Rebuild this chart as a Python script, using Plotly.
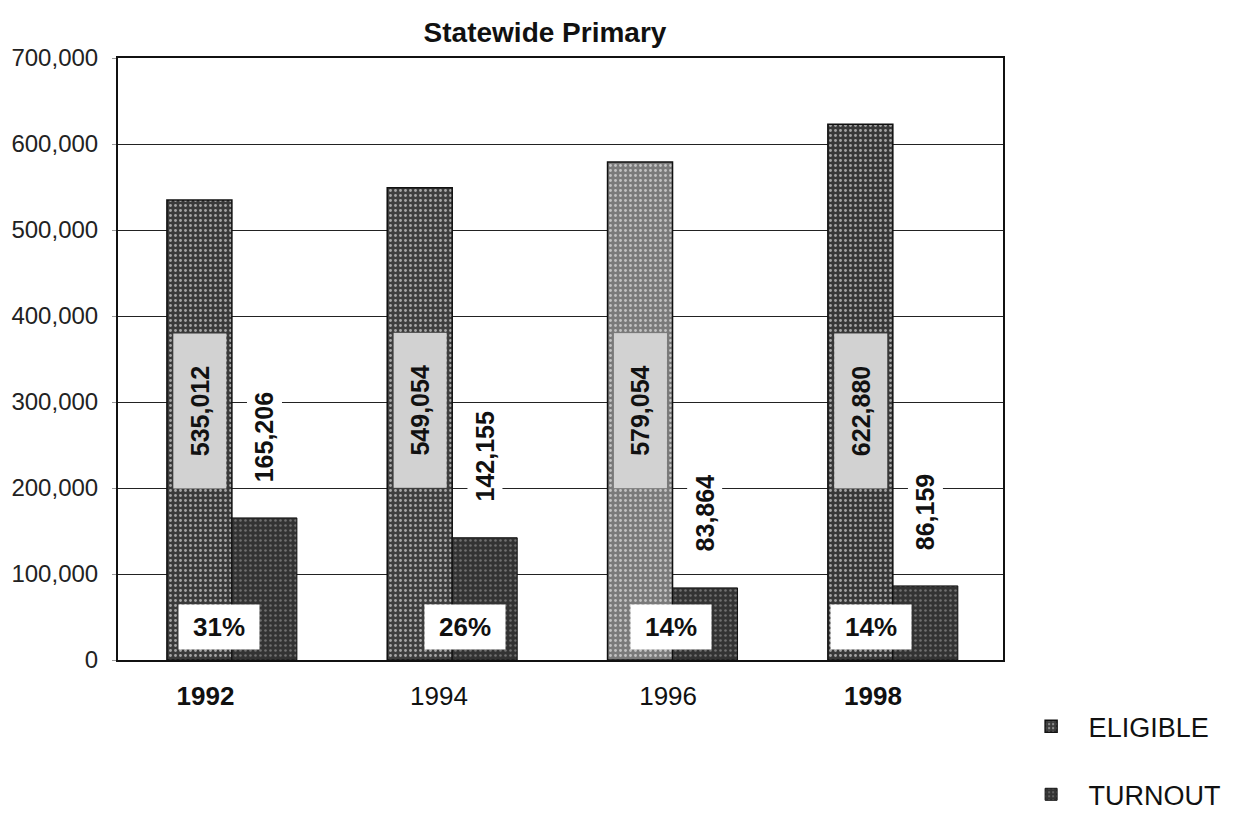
import plotly.graph_objects as go

# ---- data ----
YEARS = ["1992", "1994", "1996", "1998"]
ELIGIBLE = [535012, 549054, 579054, 622880]
TURNOUT = [165206, 142155, 83864, 86159]
Y_TICKS = [0, 100000, 200000, 300000, 400000, 500000, 600000, 700000]

# ---- styles ----
ELIGIBLE_COLORS = ["#3a3a3a", "#3e3e3e", "#7a7a7a", "#383838"]
TURNOUT_COLOR = "#333333"
FONT = "Liberation Sans, Arial, sans-serif"
BAR_W = 0.295
BOLD_YEAR = [True, False, False, True]
YEAR_LABEL_SHIFT = [-0.12, -0.06, -0.02, -0.09]   # category units
PCT_BOX_XSHIFT = [-13, 13, -2, -22]                # pixels

xs = list(range(len(YEARS)))
pct = [round(100 * t / e) for t, e in zip(TURNOUT, ELIGIBLE)]

fig = go.Figure()
fig.add_trace(go.Bar(
    name="ELIGIBLE", x=xs, y=ELIGIBLE, legendgroup="e",
    marker=dict(color=ELIGIBLE_COLORS, line=dict(color="#111", width=1.5),
                pattern=dict(shape=".", fillmode="overlay", fgcolor="#dddddd",
                             fgopacity=0.55, size=5, solidity=0.25)),
    hoverinfo="skip"))
fig.add_trace(go.Bar(
    name="TURNOUT", x=xs, y=TURNOUT, legendgroup="t",
    marker=dict(color=TURNOUT_COLOR, line=dict(color="#111", width=1),
                pattern=dict(shape=".", fillmode="overlay", fgcolor="#bbbbbb",
                             fgopacity=0.45, size=5, solidity=0.2)),
    hoverinfo="skip"))

annotations = []
for i, (e, t, p) in enumerate(zip(ELIGIBLE, TURNOUT, pct)):
    # eligible value label in a lighter box
    annotations.append(dict(
        x=i - BAR_W / 2, y=290000, xref="x", yref="y", text=f"<b>{e:,}</b>",
        showarrow=False, textangle=-90, bgcolor="#d2d2d2", width=152, height=50,
        font=dict(family=FONT, size=25, color="#111"),
        xanchor="center", yanchor="middle"))
    # turnout value label above the turnout bar
    annotations.append(dict(
        x=i + BAR_W / 2, y=t, xref="x", yref="y", text=f"<b>{t:,}</b>",
        showarrow=False, textangle=-90, bgcolor="white", borderpad=3,
        font=dict(family=FONT, size=25, color="#111"),
        xanchor="center", yanchor="bottom", yshift=32))
    # percentage box
    annotations.append(dict(
        x=i, y=0, xref="x", yref="y", text=f"<b>{p}%</b>",
        showarrow=False, bgcolor="white", width=78, height=42,
        font=dict(family=FONT, size=26, color="#111"),
        xanchor="center", yanchor="bottom", yshift=10,
        xshift=PCT_BOX_XSHIFT[i]))

fig.update_layout(
    width=1233, height=816,
    margin=dict(l=110, r=238, t=50, b=164, autoexpand=False),
    paper_bgcolor="white", plot_bgcolor="white",
    barmode="group", bargap=0.41, bargroupgap=0,
    title=dict(text="<b>Statewide Primary</b>", x=(537 - 110) / 885,
               xref="paper", xanchor="center", y=1 - 24 / 816,
               yanchor="middle",
               font=dict(family=FONT, size=28, color="#111")),
    font=dict(family=FONT, color="#111"),
    annotations=annotations,
    showlegend=True,
    legend=dict(x=1.012, y=-0.07, xanchor="left", yanchor="top",
                font=dict(family=FONT, size=27, color="#111"),
                tracegroupgap=30, itemwidth=65, bgcolor="rgba(0,0,0,0)"),
)
fig.update_xaxes(
    range=[-0.517, 3.5],
    tickvals=[x + s for x, s in zip(xs, YEAR_LABEL_SHIFT)],
    ticktext=[f"<b>{y}</b>" if b else y for y, b in zip(YEARS, BOLD_YEAR)],
    tickfont=dict(family=FONT, size=26, color="#111"), ticks="",
    showgrid=False, zeroline=False, showline=True, linecolor="#111",
    linewidth=2, mirror=True, ticklabelstandoff=12)
fig.update_yaxes(
    range=[0, 700000], tickvals=Y_TICKS, tickformat=",d",
    tickfont=dict(family=FONT, size=24, color="#222"),
    ticks="outside", ticklen=4, tickcolor="#999", ticklabelstandoff=9,
    showgrid=True, gridcolor="#222", gridwidth=1, zeroline=False,
    showline=True, linecolor="#111", linewidth=2, mirror=True)

fig.write_html("out.html")
